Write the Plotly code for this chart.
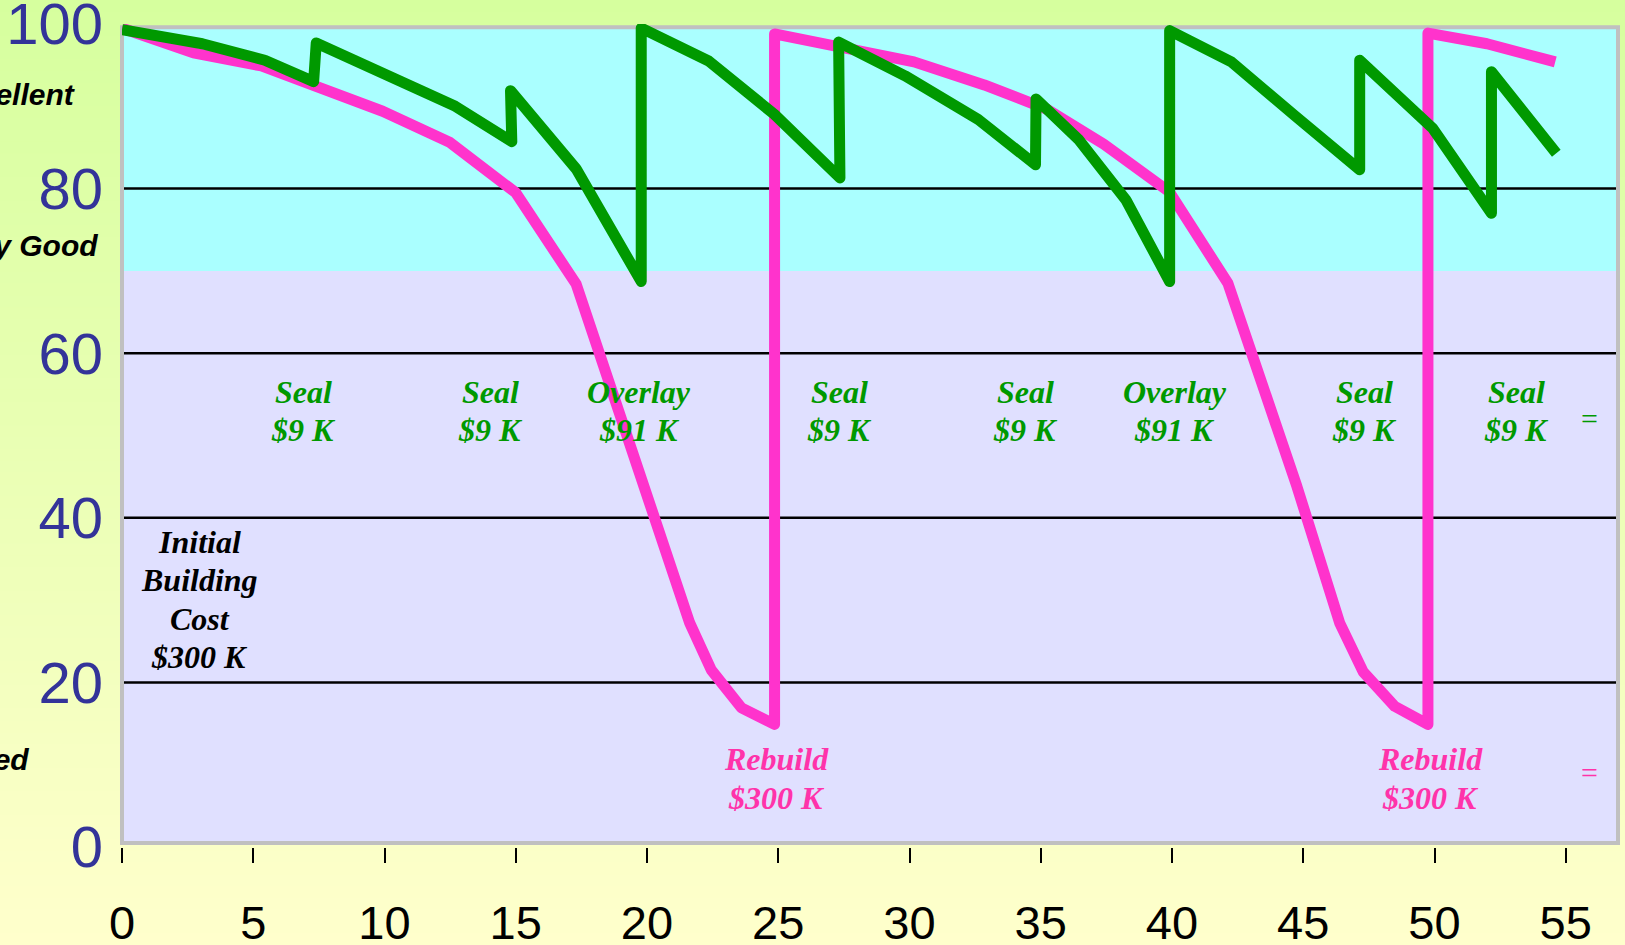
import plotly.graph_objects as go

# ---- Pavement condition index (PCI) over a 55-year life ----
# "Do nothing until failure" strategy (pink): decays, then rebuilt
pink_years = [0, 2.72, 5.31, 9.93, 12.5, 15.0, 17.3, 19.9, 21.63, 22.45, 23.6, 24.86,
              24.86, 30.17, 32.85, 35.2, 37.4, 39.9, 42.13, 44.76, 46.39, 47.28, 48.48, 49.75,
              49.75, 52.0, 54.6]
pink_pci = [99.5, 96.5, 94.9, 89.4, 85.6, 79.5, 68.4, 43.8, 27.2, 21.5, 16.9, 14.9,
            98.8, 95.4, 92.6, 89.7, 85.4, 79.6, 68.5, 43.8, 27.2, 21.3, 17.1, 14.9,
            98.9, 97.6, 95.4]

# Preventive maintenance strategy (green): seals and overlays
green_years = [0, 3.06, 5.44, 7.3, 7.4, 10.2, 12.7, 14.85, 14.8, 17.3, 19.78,
               19.78, 22.35, 24.86, 27.35, 27.3, 29.83, 32.62, 34.8, 34.82, 36.43, 38.25, 39.91,
               39.91, 42.26, 44.7, 47.15, 47.15, 49.94, 52.17, 52.17, 54.64]
green_pci = [99.3, 97.6, 95.6, 93.0, 97.7, 93.8, 90.0, 85.7, 91.9, 82.4, 68.7,
             99.5, 95.5, 89.0, 81.3, 97.8, 93.7, 88.4, 82.9, 90.9, 86.0, 78.6, 68.7,
             99.2, 95.4, 88.8, 82.3, 95.6, 87.3, 77.0, 94.2, 84.3]

x_ticks = [0, 5, 10, 15, 20, 25, 30, 35, 40, 45, 50, 55]
y_ticks = [0, 20, 40, 60, 80, 100]
grid_levels = [20, 40, 60, 80]
good_threshold = 70

treat_years = [6.91, 14.02, 19.70, 27.32, 34.43, 40.1, 47.33, 53.14]
treat_names = ["Seal", "Seal", "Overlay", "Seal", "Seal", "Overlay", "Seal", "Seal"]
treat_costs = ["$9 K", "$9 K", "$91 K", "$9 K", "$9 K", "$91 K", "$9 K", "$9 K"]
treat_label_pci = 53.0

rebuild_years = [24.94, 49.86]
rebuild_cost = "$300 K"
rebuild_label_pci = 8.3

initial_year = 2.97
initial_label_pci = 30.1
initial_text = ["Initial", "Building", "Cost", "$300 K"]

rating_names = ["Excellent", "Very Good", "Failed"]
rating_pci = [91.4, 73.1, 10.6]
rating_right_px = [78, 100, 31]

total_marker_year = 55.9
total_marker_pci = [52.1, 9.0]

# ---- styling ----
W, H = 1625, 945
ML, MR, MT, MB = 122, 7, 24, 98
PX_PER_YEAR = 26.25
X_MAX = (W - ML - MR) / PX_PER_YEAR
GREEN = "#009900"
PINK = "#ff33cc"
PINK_TEXT = "#ff33aa"
CYAN = "#aaffff"
LAVENDER = "#e0e0ff"
FRAME = "#c0c0c0"
SERIF = "Liberation Serif, Times New Roman, serif"
SANS = "Liberation Sans, Arial, sans-serif"
LINE_GAP = 38.5  # px between stacked label lines

fig = go.Figure()
fig.add_trace(go.Scatter(x=pink_years, y=pink_pci, mode="lines",
                         line=dict(color=PINK, width=11), hoverinfo="skip"))
fig.add_trace(go.Scatter(x=green_years, y=green_pci, mode="lines",
                         line=dict(color=GREEN, width=11), hoverinfo="skip"))

shapes = []
# page background: vertical gradient from lime (top) to pale yellow (bottom)
top_rgb = (214, 255, 158)
bot_rgb = (255, 255, 204)
n_strips = 80
plot_h = H - MT - MB
plot_bottom_px = H - MB
for i in range(n_strips):
    p0 = i * H / n_strips
    p1 = (i + 1) * H / n_strips + 1
    t = (i + 0.5) / n_strips
    col = "rgb({},{},{})".format(*[round(a + (b - a) * t) for a, b in zip(top_rgb, bot_rgb)])
    shapes.append(dict(type="rect", xref="paper", yref="paper", layer="below",
                       x0=-0.2, x1=1.2,
                       y0=(plot_bottom_px - p1) / plot_h, y1=(plot_bottom_px - p0) / plot_h,
                       line=dict(width=0), fillcolor=col))

frame_bottom, frame_top = 0.5, 99.6
# condition bands
shapes.append(dict(type="rect", xref="paper", yref="y", layer="below",
                   x0=0, x1=1, y0=frame_bottom, y1=good_threshold,
                   line=dict(width=0), fillcolor=LAVENDER))
shapes.append(dict(type="rect", xref="paper", yref="y", layer="below",
                   x0=0, x1=1, y0=good_threshold, y1=frame_top,
                   line=dict(width=0), fillcolor=CYAN))
# horizontal rules
for g in grid_levels:
    shapes.append(dict(type="line", xref="paper", yref="y", layer="below",
                       x0=0, x1=1, y0=g, y1=g, line=dict(color="black", width=2.5)))
# plot frame
shapes.append(dict(type="rect", xref="paper", yref="y", layer="below",
                   x0=0, x1=1, y0=frame_bottom, y1=frame_top,
                   line=dict(color=FRAME, width=4), fillcolor="rgba(0,0,0,0)"))

annotations = []


def stacked_label(x, y, lines, color, size=32):
    """Centre a block of lines on (x, y) with a fixed line gap."""
    n = len(lines)
    for k, txt in enumerate(lines):
        shift = ((n - 1) / 2 - k) * LINE_GAP
        annotations.append(dict(x=x, y=y, xref="x", yref="y", yshift=shift,
                                text=txt, showarrow=False,
                                xanchor="center", yanchor="middle",
                                font=dict(family=SERIF, size=size, color=color,
                                          weight="bold", style="italic")))


for yr, name, cost in zip(treat_years, treat_names, treat_costs):
    stacked_label(yr, treat_label_pci, [name, cost], GREEN)
for yr in rebuild_years:
    stacked_label(yr, rebuild_label_pci, ["Rebuild", rebuild_cost], PINK_TEXT)
stacked_label(initial_year, initial_label_pci, initial_text, "black")

for yv, col in zip(total_marker_pci, [GREEN, PINK_TEXT]):
    annotations.append(dict(x=total_marker_year, y=yv, xref="x", yref="y",
                            text="=", showarrow=False, xanchor="center", yanchor="middle",
                            font=dict(family=SERIF, size=30, color=col)))
for name, yv, rpx in zip(rating_names, rating_pci, rating_right_px):
    annotations.append(dict(x=(rpx - ML) / (W - ML - MR), y=yv, xref="paper", yref="y",
                            text=name, showarrow=False, xanchor="right", yanchor="middle",
                            font=dict(family=SANS, size=30, color="black",
                                      weight="bold", style="italic")))

fig.update_layout(
    width=W, height=H, autosize=False,
    margin=dict(l=ML, r=MR, t=MT, b=MB, pad=0),
    paper_bgcolor="#ffffcc", plot_bgcolor="rgba(0,0,0,0)",
    showlegend=False,
    shapes=shapes, annotations=annotations,
    xaxis=dict(range=[0, X_MAX], tickvals=x_ticks, ticktext=[str(v) for v in x_ticks],
               showgrid=False, zeroline=False, showline=False, automargin=False,
               ticks="outside", ticklen=15, tickwidth=1.5, tickcolor="black",
               ticklabelstandoff=20, ticklabeloverflow="allow",
               tickfont=dict(family=SANS, size=47, color="black")),
    yaxis=dict(range=[0, 100], tickvals=y_ticks, ticktext=[str(v) for v in y_ticks],
               showgrid=False, zeroline=False, showline=False, ticks="", automargin=False,
               ticklabelstandoff=18, ticklabeloverflow="allow",
               tickfont=dict(family=SANS, size=58, color="#333399")),
)

round_joins = ("document.querySelectorAll('.scatterlayer path.js-line')"
               ".forEach(function(p){p.style.strokeLinejoin='round';});")
fig.write_html("out.html", post_script=round_joins)
